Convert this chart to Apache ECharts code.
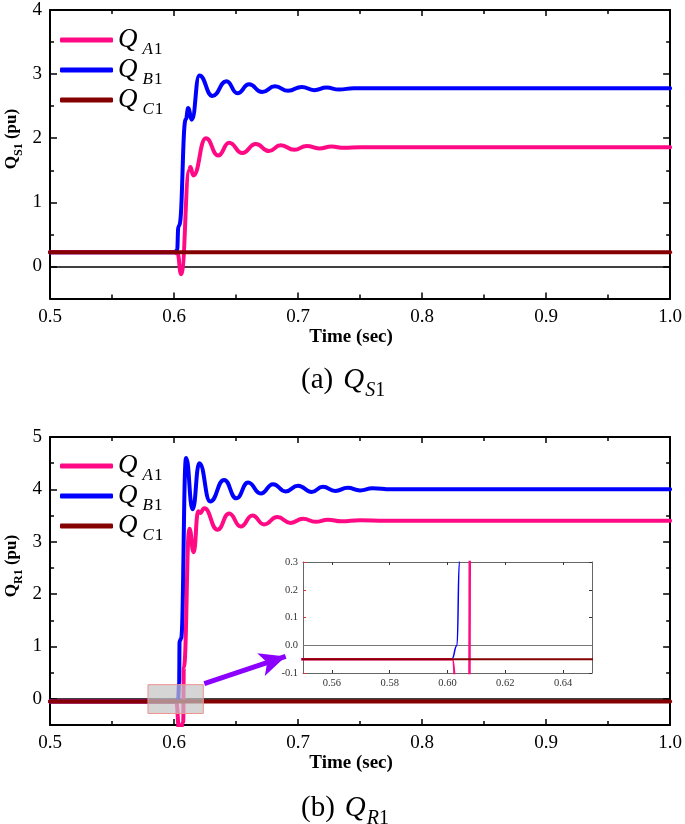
<!DOCTYPE html>
<html><head><meta charset="utf-8">
<script src="https://cdn.jsdelivr.net/npm/echarts@6/dist/echarts.min.js"></script>
<style>html,body{margin:0;padding:0;background:#fff}#c{width:685px;height:824px}</style>
</head><body><div id="c"></div>
<script>
// ---------------- data ----------------
const seriesNames = ['QA1', 'QB1', 'QC1'];
const xTickLabels = [0.5, 0.6, 0.7, 0.8, 0.9, 1.0];
const yTicksS = [0, 1, 2, 3, 4];
const yMinorS = [0.5, 1.5, 2.5, 3.5];
const yTicksR = [0, 1, 2, 3, 4, 5];
const yMinorR = [0.5, 1.5, 2.5, 3.5, 4.5];
const insetXTicks = [0.56, 0.58, 0.60, 0.62, 0.64];
const insetYTicks = [-0.1, 0.0, 0.1, 0.2, 0.3];

// (a) Q_S1
const qA1_S = [[0.5,0.22],[0.6,0.22],[0.6028,0.2],[0.6057,-0.12],[0.6124,1.5],[0.6132,1.55],[0.6155,1.42],[0.6257,2.0],[0.6356,1.73],[0.6444,1.93],[0.655,1.77],[0.6659,1.91],[0.6766,1.8],[0.686,1.89],[0.697,1.82],[0.707,1.88],[0.717,1.84],[0.727,1.87],[0.737,1.85],[0.75,1.86],[0.8,1.86],[1.0,1.86]];
const qB1_S = [[0.5,0.22],[0.6,0.22],[0.6025,0.25],[0.6035,0.62],[0.6042,0.64],[0.6095,2.3],[0.6115,2.47],[0.6143,2.29],[0.6204,2.98],[0.631,2.66],[0.6423,2.89],[0.6511,2.7],[0.6605,2.84],[0.671,2.72],[0.6814,2.81],[0.692,2.74],[0.703,2.8],[0.713,2.75],[0.723,2.79],[0.733,2.76],[0.745,2.78],[0.8,2.78],[1.0,2.78]];
const qC1_S = [[0.5,0.22],[1.0,0.22]];

// (b) Q_R1
const qA1_R = [[0.5,-0.05],[0.6017,-0.05],[0.6045,-0.7],[0.6074,-0.45],[0.6079,0.6],[0.6124,3.25],[0.6158,2.8],[0.6195,3.58],[0.621,3.55],[0.6244,3.64],[0.635,3.23],[0.6444,3.54],[0.6538,3.29],[0.6632,3.5],[0.6726,3.33],[0.6832,3.47],[0.694,3.36],[0.704,3.44],[0.714,3.38],[0.724,3.42],[0.735,3.39],[0.75,3.41],[0.77,3.4],[1.0,3.4]];
const qB1_R = [[0.5,-0.05],[0.6015,-0.05],[0.6033,0.0],[0.6041,0.3],[0.6045,1.1],[0.6057,1.15],[0.6097,4.6],[0.615,3.62],[0.6204,4.5],[0.6292,3.77],[0.6404,4.18],[0.6503,3.83],[0.6597,4.13],[0.6699,3.92],[0.6798,4.1],[0.69,3.96],[0.70,4.07],[0.711,3.95],[0.72,4.05],[0.73,3.97],[0.74,4.03],[0.75,3.98],[0.76,4.02],[0.775,4.0],[1.0,4.0]];
const qC1_R = [[0.5,-0.05],[1.0,-0.05]];

// annotation (data coords)
const zoomBox = [[0.579, 0.27], [0.6236, -0.28]];
const arrowLine = [[0.6244, 0.29], [0.69, 0.81]];

// ---------------- styling ----------------
const F = 'Liberation Serif';
const PINK = '#ff0a84', BLUE = '#0000ff', DRED = '#850000';
const subs = {QA1: ['A','1'], QB1: ['B','1'], QC1: ['C','1']};

const chart = echarts.init(document.getElementById('c'), null, {renderer: 'canvas'});

function mainXAxes(gi) {
  const base = {gridIndex: gi, type: 'value', min: 0.5, max: 1.0, interval: 0.1,
    axisLine: {onZero: false, lineStyle: {color: '#000', width: 2}},
    axisTick: {inside: true, length: 6, lineStyle: {color: '#000', width: 1.5}},
    minorTick: {show: true, splitNumber: 2, length: 4, lineStyle: {color: '#000', width: 1.5}},
    splitLine: {show: false}, minorSplitLine: {show: false}};
  return [
    Object.assign({}, base, {position: 'bottom',
      axisLabel: {customValues: xTickLabels, fontFamily: F, fontSize: 19, color: '#000', margin: 9, formatter: v => v.toFixed(1)},
      name: 'Time (sec)', nameLocation: 'middle', nameGap: 23,
      nameTextStyle: {fontFamily: F, fontWeight: 'bold', fontSize: 19, color: '#000', padding: [0, 18, 0, 0]}}),
    Object.assign({}, base, {position: 'top', axisLabel: {show: false}})
  ];
}
function mainYAxes(gi, max, major, minor) {
  const common = {gridIndex: gi, type: 'value', min: -0.5, max: max, splitLine: {show: false}};
  return [
    Object.assign({}, common, {position: 'left',
      axisLine: {show: true, onZero: false, lineStyle: {color: '#000', width: 2}},
      axisTick: {show: true, inside: true, length: 7, customValues: major, lineStyle: {color: '#000', width: 1.5}},
      axisLabel: {customValues: major, fontFamily: F, fontSize: 19, color: '#000', margin: 8}}),
    Object.assign({}, common, {position: 'left', axisLine: {show: false, onZero: false},
      axisTick: {show: true, inside: true, length: 4, customValues: minor, lineStyle: {color: '#000', width: 1.5}},
      axisLabel: {show: false}}),
    Object.assign({}, common, {position: 'right',
      axisLine: {show: true, onZero: false, lineStyle: {color: '#000', width: 2}},
      axisTick: {show: true, inside: true, length: 7, customValues: major, lineStyle: {color: '#000', width: 1.5}},
      axisLabel: {show: false}}),
    Object.assign({}, common, {position: 'right', axisLine: {show: false, onZero: false},
      axisTick: {show: true, inside: true, length: 4, customValues: minor, lineStyle: {color: '#000', width: 1.5}},
      axisLabel: {show: false}})
  ];
}

function line(name, data, color, width, xi, yi, extra) {
  return Object.assign({type: 'line', name: name, data: data, xAxisIndex: xi, yAxisIndex: yi,
    symbol: 'none', showSymbol: false, smooth: 0.5, smoothMonotone: 'x', silent: true,
    lineStyle: {color: color, width: width, cap: 'round', join: 'round'}, itemStyle: {color: color},
    emphasis: {disabled: true}, z: 2}, extra || {});
}
function zeroLine(color, width) {
  return {silent: true, symbol: 'none', z: 1, label: {show: false}, emphasis: {disabled: true},
    lineStyle: {color: color, width: width, type: 'solid'}, data: [{yAxis: 0}]};
}

const legendRich = {
  q: {fontFamily: F, fontStyle: 'italic', fontSize: 27, lineHeight: 28, color: '#000', verticalAlign: 'top'},
  s: {fontFamily: F, fontStyle: 'italic', fontSize: 17, lineHeight: 18, color: '#000', verticalAlign: 'top', padding: [15, 0, 0, 5]},
  t: {fontFamily: F, fontSize: 17, lineHeight: 18, color: '#000', verticalAlign: 'top', padding: [15, 0, 0, 1]}
};
function legend(top) {
  return {data: seriesNames, orient: 'vertical', left: 60, top: top, padding: 0, itemGap: -2,
    itemWidth: 53, itemHeight: 5, icon: 'roundRect', selectedMode: false,
    itemStyle: {borderWidth: 0}, lineStyle: {width: 0},
    formatter: n => '{q|Q}{s|' + subs[n][0] + '}{t|' + subs[n][1] + '}',
    textStyle: {rich: legendRich}};
}

const capRich = {
  n: {fontFamily: F, fontSize: 29, lineHeight: 32, color: '#000', verticalAlign: 'top'},
  q: {fontFamily: F, fontStyle: 'italic', fontSize: 29, lineHeight: 32, color: '#000', verticalAlign: 'top', padding: [0, 0, 0, 10]},
  s: {fontFamily: F, fontStyle: 'italic', fontSize: 20, lineHeight: 21, color: '#000', verticalAlign: 'top', padding: [15, 0, 0, 1]},
  t: {fontFamily: F, fontSize: 20, lineHeight: 21, color: '#000', verticalAlign: 'top', padding: [15, 0, 0, 0]}
};
const yRich = {
  q: {fontFamily: F, fontWeight: 'bold', fontSize: 17, lineHeight: 19, color: '#000', verticalAlign: 'top'},
  s: {fontFamily: F, fontWeight: 'bold', fontSize: 12, lineHeight: 13, color: '#000', verticalAlign: 'top', padding: [9, 0, 0, 0]},
  p: {fontFamily: F, fontWeight: 'bold', fontSize: 17, lineHeight: 19, color: '#000', verticalAlign: 'top'}
};

const option = {
  animation: false,
  backgroundColor: '#fff',
  grid: [
    {left: 50, top: 10, width: 623, height: 288.5},
    {left: 50, top: 437, width: 623, height: 288},
    {left: 303, top: 562, width: 289, height: 111, show: true, backgroundColor: '#fff', borderWidth: 0}
  ],
  xAxis: [].concat(mainXAxes(0), mainXAxes(1), [
    {gridIndex: 2, type: 'value', min: 0.55, max: 0.65, position: 'bottom',
      axisLine: {onZero: false, lineStyle: {color: '#666', width: 1}},
      axisTick: {inside: true, length: 3, customValues: insetXTicks, lineStyle: {color: '#333'}},
      axisLabel: {customValues: insetXTicks, fontFamily: F, fontSize: 10.5, color: '#333', margin: 5, formatter: v => v.toFixed(2)},
      splitLine: {show: false}},
    {gridIndex: 2, type: 'value', min: 0.55, max: 0.65, position: 'top',
      axisLine: {onZero: false, lineStyle: {color: '#666', width: 1}},
      axisTick: {inside: true, length: 3, customValues: insetXTicks, lineStyle: {color: '#333'}},
      axisLabel: {show: false}, splitLine: {show: false}}
  ]),
  yAxis: [].concat(mainYAxes(0, 4, yTicksS, yMinorS), mainYAxes(1, 5, yTicksR, yMinorR), [
    {gridIndex: 2, type: 'value', min: -0.1, max: 0.3, position: 'left',
      axisLine: {show: true, onZero: false, lineStyle: {color: '#666', width: 1}},
      axisTick: {show: true, inside: true, length: 3, customValues: insetYTicks, lineStyle: {color: '#e03030'}},
      axisLabel: {customValues: insetYTicks, fontFamily: F, fontSize: 10.5, color: '#333', margin: 5, formatter: v => v.toFixed(1)},
      splitLine: {show: false}},
    {gridIndex: 2, type: 'value', min: -0.1, max: 0.3, position: 'right',
      axisLine: {show: true, onZero: false, lineStyle: {color: '#666', width: 1}},
      axisTick: {show: true, inside: true, length: 3, customValues: insetYTicks, lineStyle: {color: '#333'}},
      axisLabel: {show: false}, splitLine: {show: false}}
  ]),
  legend: [legend(26), legend(452)],
  series: [
    // (a)
    line('QB1', qB1_S, BLUE, 4, 0, 0),
    line('QA1', qA1_S, PINK, 4, 0, 0),
    line('QC1', qC1_S, DRED, 4, 0, 0, {markLine: zeroLine('#000', 1.5)}),
    // (b)
    line('QB1', qB1_R, BLUE, 4, 2, 4, {markLine: {silent: true, z: 11, symbol: ['none', 'arrow'], symbolSize: [18, 26],
      label: {show: false}, emphasis: {disabled: true}, lineStyle: {color: '#8b00ff', width: 5, type: 'solid'},
      data: [[{coord: arrowLine[0]}, {coord: arrowLine[1]}]]}}),
    line('QA1', qA1_R, PINK, 4, 2, 4, {markArea: {silent: true, z: 10, label: {show: false}, emphasis: {disabled: true},
      itemStyle: {color: 'rgba(195,195,195,0.7)', borderColor: '#f09090', borderWidth: 1},
      data: [[{coord: zoomBox[0]}, {coord: zoomBox[1]}]]}}),
    line('QC1', qC1_R, DRED, 4, 2, 4, {markLine: zeroLine('#000', 1.5)}),
    // inset
    line('QB1', qB1_R, BLUE, 1.5, 4, 8),
    line('QA1', qA1_R, PINK, 2.5, 4, 8),
    line('QC1', qC1_R, DRED, 2, 4, 8, {markLine: zeroLine('#777', 1)})
  ],
  graphic: [
    {type: 'text', x: 13, y: 139, rotation: Math.PI / 2,
      style: {text: '{q|Q}{s|S1}{p| (pu)}', rich: yRich, align: 'center', verticalAlign: 'middle'}},
    {type: 'text', x: 13, y: 566, rotation: Math.PI / 2,
      style: {text: '{q|Q}{s|R1}{p| (pu)}', rich: yRich, align: 'center', verticalAlign: 'middle'}},
    {type: 'text', x: 301, y: 382,
      style: {text: '{n|(a)}{q|Q}{s|S}{t|1}', rich: capRich, align: 'left', verticalAlign: 'middle'}},
    {type: 'text', x: 301, y: 810,
      style: {text: '{n|(b)}{q|Q}{s|R}{t|1}', rich: capRich, align: 'left', verticalAlign: 'middle'}}
  ]
};
chart.setOption(option);
</script>
</body></html>
